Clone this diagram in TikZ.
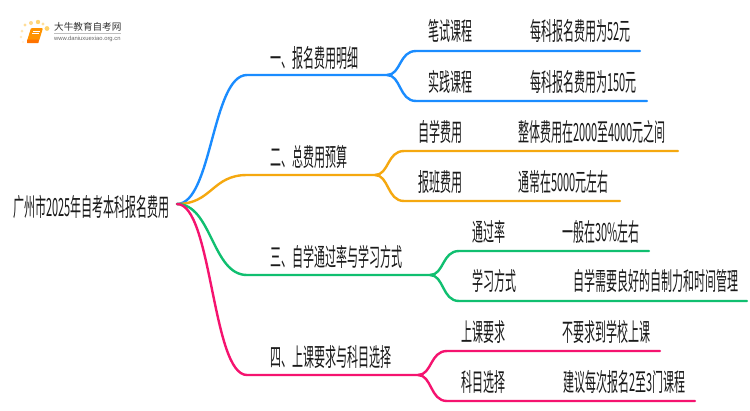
\documentclass[tikz,border=0pt]{standalone}
\usepackage{fontspec}
\usepackage{graphicx}
\setmainfont{Noto Sans CJK SC}
\newfontfamily\urlfont{Liberation Sans}
\newcommand{\sq}[1]{\scalebox{.44}[1]{#1}}
\definecolor{cblue}{HTML}{1A8CFF}
\definecolor{corange}{HTML}{F5A80F}
\definecolor{cgreen}{HTML}{10BF70}
\definecolor{cpink}{HTML}{F5136F}
\definecolor{inktext}{HTML}{1A1A1A}
\tikzset{
  txt/.style={anchor=west,inner sep=0pt,outer sep=0pt,text=inktext,font=\fontsize{25}{27}\selectfont},
  conn/.style={line width=2.4pt,line cap=round},
}
\begin{document}
\begin{tikzpicture}[x=1pt,y=-1pt]
\path[use as bounding box,fill=white] (0,0) rectangle (750,410);
% logo
\foreach \x/\y/\r/\c in {47/28.5/2.4/FFD36B,38/22/2.2/FFD470,43/24/1.6/FFE09A,31/23/2/FFD98A,25/25/1.7/FFDD99,22/31/1.5/FFE6B3,21/37/1.3/FFEBC2,23/42/1.1/FFF2D9}{
  \definecolor{tmpc}{HTML}{\c}
  \fill[tmpc] (\x,\y) circle (\r);
}
\fill[rounded corners=1pt,fill=orange!85!yellow] (31,28) -- (43,28) -- (39,41) -- (27,41) -- cycle;
\fill[rounded corners=.5pt,fill=orange!90!red] (27,39.5) -- (39,39.5) -- (38.5,43) -- (27,43) -- cycle;
\draw[white,line width=.5pt] (33,31) -- (40,31) (32,33) -- (39,33);
\node[inner sep=0pt,anchor=west,text=black!80,font=\fontsize{9.6}{10}\selectfont] (logot) at (54,27) {大牛教育自考网};
\node[inner sep=0pt,anchor=west,text=black!60,font=\urlfont\fontsize{5.85}{6}\selectfont] (logou) at (54,39) {www.daniuxuexiao.org.cn};
\draw[black!25,line width=.5pt] (54,33.5) -- (121,33.5);
% root
\node[txt] (root) at (13,207) {\sq{广州市2025年自考本科报名费用}};
\coordinate (o) at (177,204);
% level 1
\node[txt] (a) at (270,58) {\sq{一、报名费用明细}};
\node[txt] (b) at (270,157) {\sq{二、总费用预算}};
\node[txt] (c) at (270,257) {\sq{三、自学通过率与学习方式}};
\node[txt] (d) at (270,357) {\sq{四、上课要求与科目选择}};
% level 2 and 3
\node[txt] (a1) at (428,31) {\sq{笔试课程}};
\node[txt] (a1v) at (530,31) {\sq{每科报名费用为52元}};
\node[txt] (a2) at (428,82) {\sq{实践课程}};
\node[txt] (a2v) at (530,82) {\sq{每科报名费用为150元}};
\node[txt] (b1) at (418,132) {\sq{自学费用}};
\node[txt] (b1v) at (518,132) {\sq{整体费用在2000至4000元之间}};
\node[txt] (b2) at (418,182) {\sq{报班费用}};
\node[txt] (b2v) at (518,182) {\sq{通常在5000元左右}};
\node[txt] (c1) at (472,232) {\sq{通过率}};
\node[txt] (c1v) at (562,232) {\sq{一般在30\%左右}};
\node[txt] (c2) at (472,281) {\sq{学习方式}};
\node[txt] (c2v) at (573,281) {\sq{自学需要良好的自制力和时间管理}};
\node[txt] (d1) at (461,332) {\sq{上课要求}};
\node[txt] (d1v) at (562,332) {\sq{不要求到学校上课}};
\node[txt] (d2) at (461,382) {\sq{科目选择}};
\node[txt] (d2v) at (563,382) {\sq{建议每次报名2至3门课程}};
% connector coordinates
\coordinate (ha) at (387,75);
\coordinate (hb) at (375,175);
\coordinate (hc) at (430,275);
\coordinate (hd) at (418,375);
\coordinate (ea1) at (640,51);
\coordinate (ea2) at (647,101);
\coordinate (eb1) at (678,151);
\coordinate (eb2) at (620,201);
\coordinate (ec1) at (649,251);
\coordinate (ec2) at (747,301);
\coordinate (ed1) at (660,351);
\coordinate (ed2) at (695,401);
% blue
\draw[conn,cblue] (o) .. controls (212,204) and (212,75) .. (247,75) -- (ha);
\draw[conn,cblue] (ha) .. controls (401,75) and (399,51) .. (416,51) -- (ea1);
\draw[conn,cblue] (ha) .. controls (401,75) and (399,101) .. (416,101) -- (ea2);
% orange
\draw[conn,corange] (o) .. controls (212,204) and (212,175) .. (247,175) -- (hb);
\draw[conn,corange] (hb) .. controls (389,175) and (387,151) .. (404,151) -- (eb1);
\draw[conn,corange] (hb) .. controls (389,175) and (387,201) .. (404,201) -- (eb2);
% green
\draw[conn,cgreen] (o) .. controls (212,204) and (212,275) .. (247,275) -- (hc);
\draw[conn,cgreen] (hc) .. controls (444,275) and (442,251) .. (459,251) -- (ec1);
\draw[conn,cgreen] (hc) .. controls (444,275) and (442,301) .. (459,301) -- (ec2);
% pink
\draw[conn,cpink] (o) .. controls (212,204) and (212,375) .. (247,375) -- (hd);
\draw[conn,cpink] (hd) .. controls (432,375) and (430,351) .. (447,351) -- (ed1);
\draw[conn,cpink] (hd) .. controls (432,375) and (430,401) .. (447,401) -- (ed2);
\end{tikzpicture}
\end{document}
